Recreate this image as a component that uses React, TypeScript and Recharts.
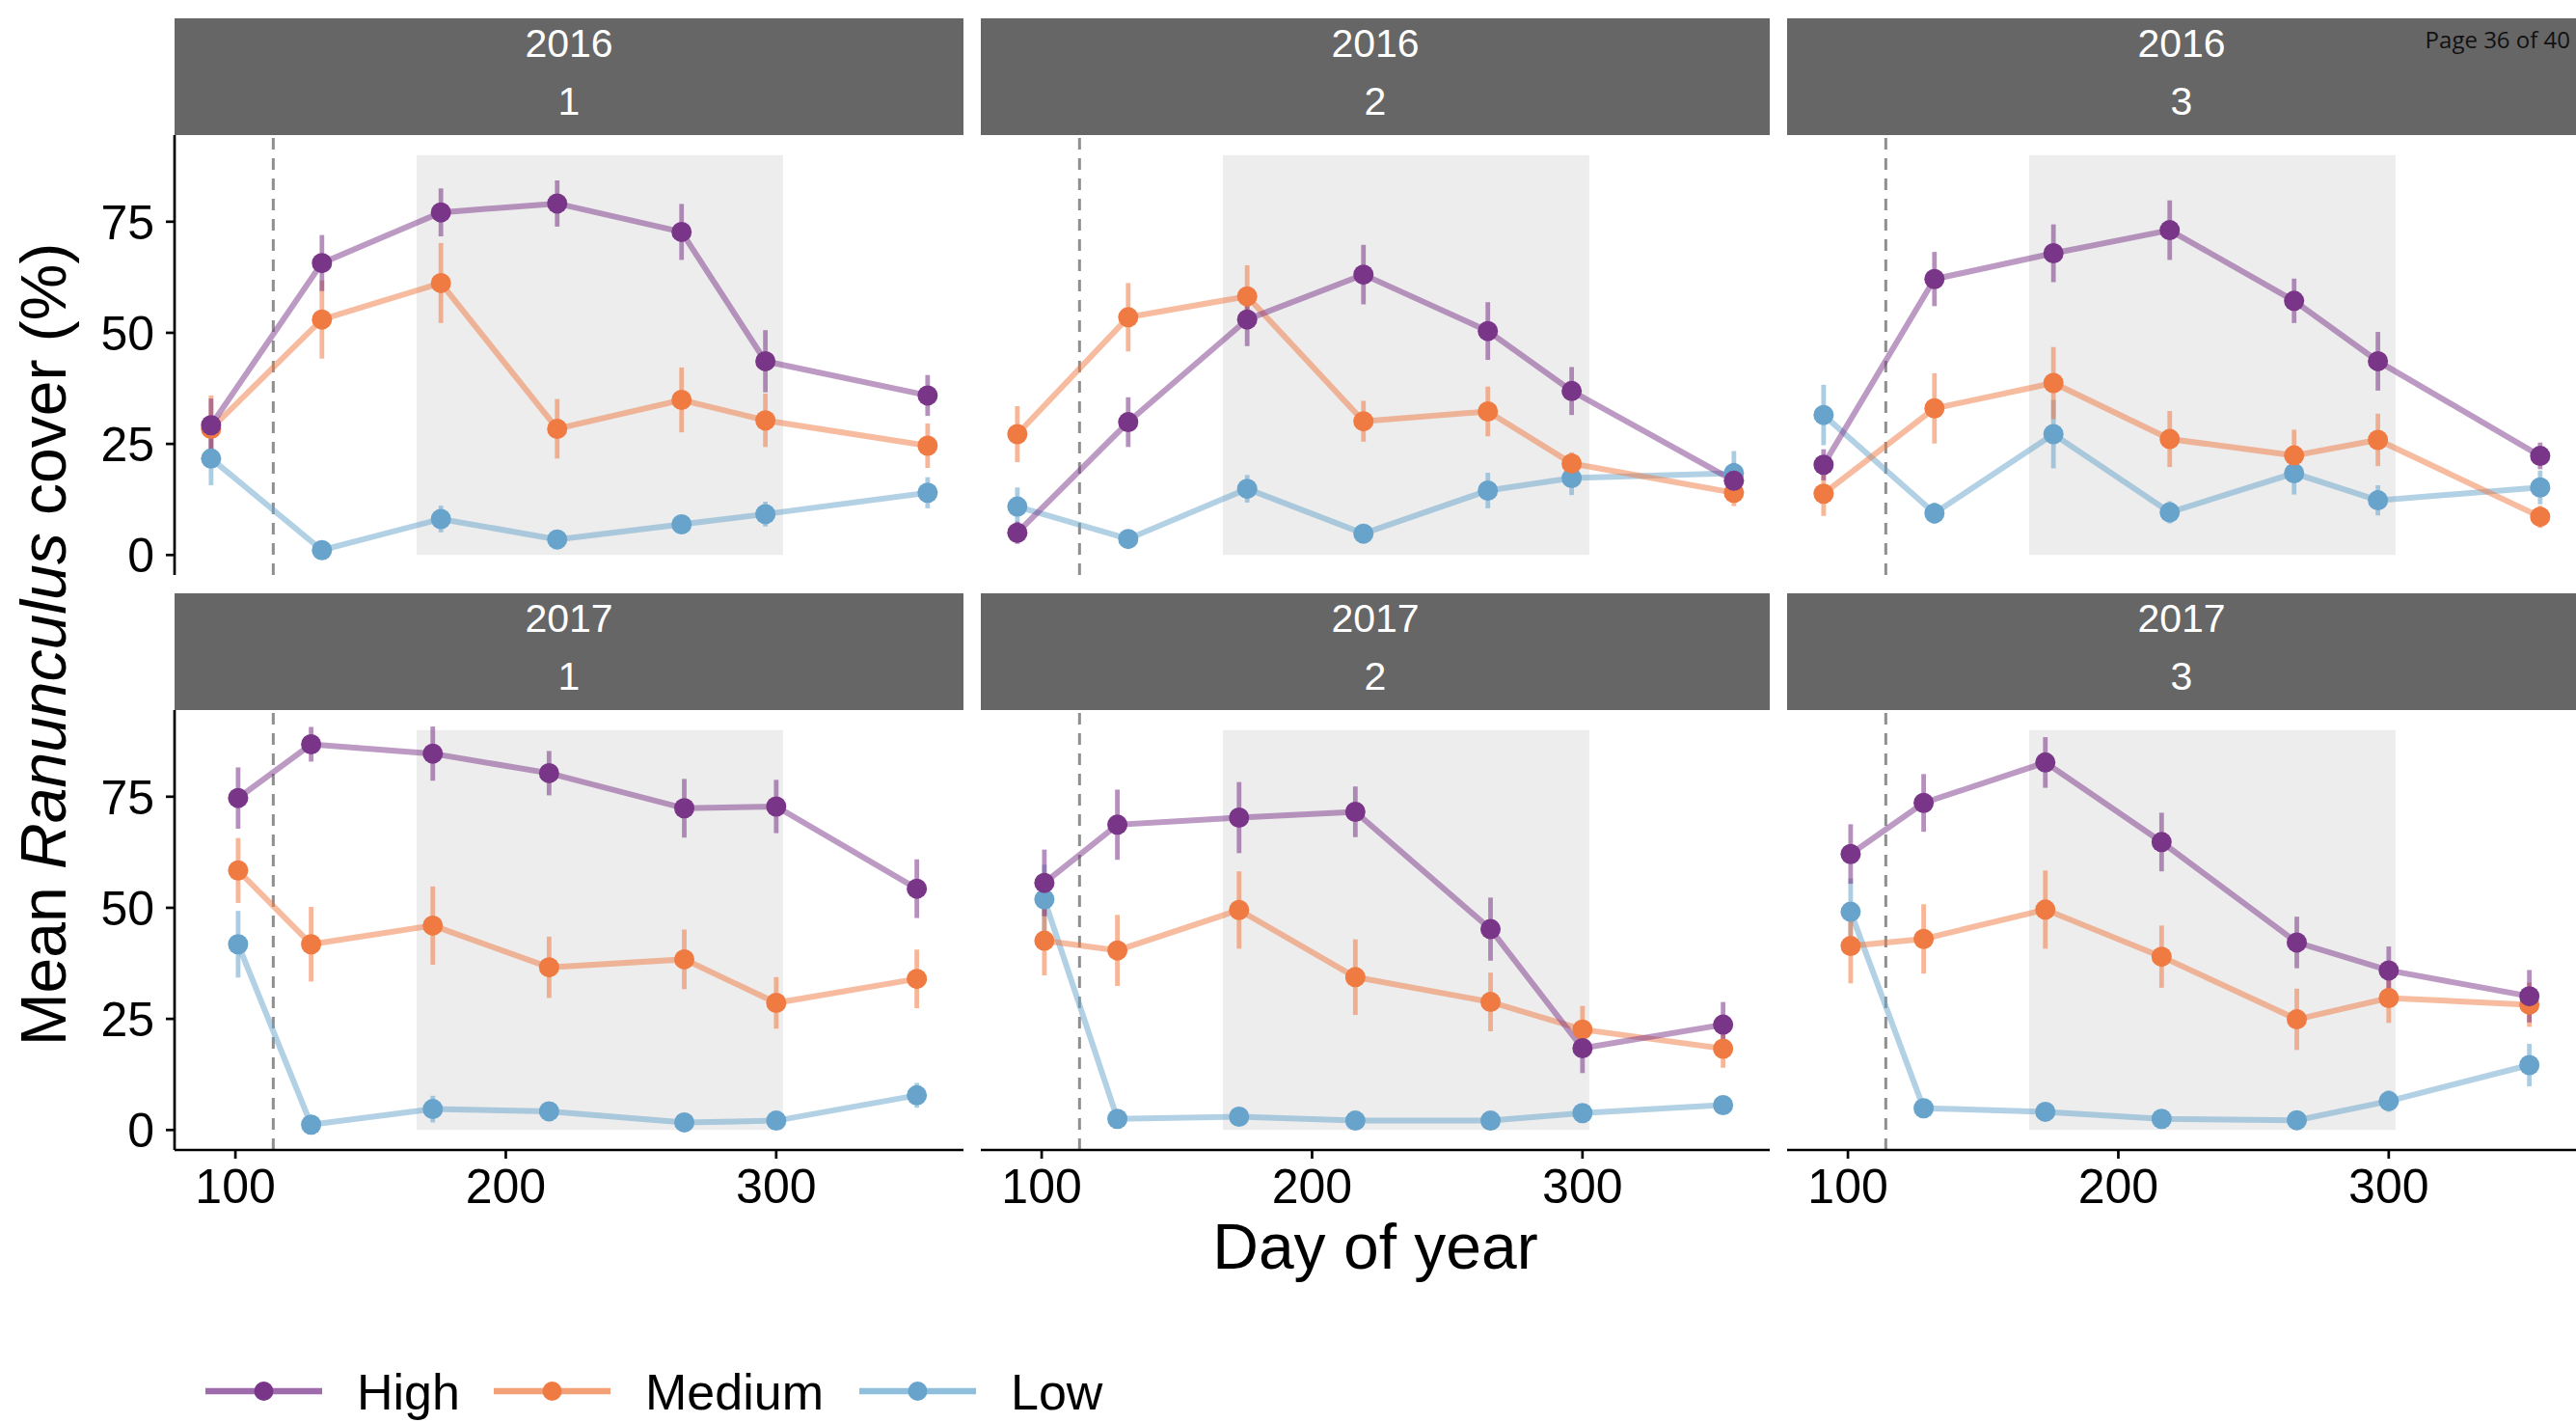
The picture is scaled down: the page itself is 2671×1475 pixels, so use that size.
import React from 'react';
import { ComposedChart, Line, XAxis, YAxis, ReferenceArea, ReferenceLine, ErrorBar } from 'recharts';

const FONT = '"Liberation Sans", Arial, Helvetica, sans-serif';

// ---------- data ----------
const YEARS = ['2016', '2017'];
const SITES = ['1', '2', '3'];
const SERIES_NAMES = ['High', 'Medium', 'Low'];
const SERIES_KEYS = ['high', 'med', 'low'];
const SERIES_COLORS = ['#793587', '#EF7A42', '#67A3CB'];
const LEGEND_LINE_COLORS = ['#9E6CAC', '#F4A077', '#90BEDD'];

const X_TICKS = [100, 200, 300];
const Y_TICKS = [0, 25, 50, 75];
const X_DOMAIN = [77.5, 369.25];
const Y_DOMAIN = [-4.5, 94.5];

const SHADE_START = 167;
const SHADE_END = 302.5;
const SHADE_BOTTOM = 0;
const SHADE_TOP = 90;
const DASH_DAY = 114;

const DAYS_2016 = [91, 132, 176, 219, 265, 296, 356];
const DAYS_2017 = [101, 128, 173, 216, 266, 300, 352];

// 2016 site 1
const HIGH_2016_1 = [29.2, 65.7, 77.1, 79.1, 72.7, 43.6, 35.9];
const HIGH_ERR_2016_1 = [6.0, 6.3, 5.4, 5.2, 6.3, 7.0, 4.6];
const MED_2016_1 = [28.4, 53.0, 61.2, 28.4, 34.9, 30.3, 24.6];
const MED_ERR_2016_1 = [7.5, 8.8, 9.0, 6.7, 7.3, 6.0, 5.0];
const LOW_2016_1 = [21.7, 1.1, 8.1, 3.5, 6.9, 9.2, 14.0];
const LOW_ERR_2016_1 = [6.0, 1.0, 3.0, 1.0, 2.0, 2.8, 3.5];

// 2016 site 2
const HIGH_2016_2 = [5.0, 29.9, 53.0, 63.1, 50.4, 36.9, 16.7];
const HIGH_ERR_2016_2 = [2.5, 5.6, 6.0, 6.7, 6.5, 5.4, 4.0];
const MED_2016_2 = [27.2, 53.5, 58.2, 30.1, 32.3, 20.6, 14.0];
const MED_ERR_2016_2 = [6.3, 7.7, 7.0, 4.6, 5.6, 2.5, 3.0];
const LOW_2016_2 = [10.9, 3.6, 14.9, 4.8, 14.5, 17.3, 18.4];
const LOW_ERR_2016_2 = [4.3, 1.0, 3.1, 1.0, 4.0, 3.8, 5.0];

// 2016 site 3
const HIGH_2016_3 = [20.3, 62.1, 67.9, 73.1, 57.2, 43.6, 22.3];
const HIGH_ERR_2016_3 = [3.5, 6.1, 6.5, 6.7, 5.0, 6.6, 3.0];
const MED_2016_3 = [13.8, 33.0, 38.7, 26.1, 22.4, 25.9, 8.6];
const MED_ERR_2016_3 = [5.0, 7.9, 8.1, 6.3, 5.8, 5.9, 2.5];
const LOW_2016_3 = [31.5, 9.4, 27.2, 9.6, 18.4, 12.3, 15.2];
const LOW_ERR_2016_3 = [6.8, 2.4, 7.7, 2.5, 4.8, 3.4, 3.8];

// 2017 site 1
const HIGH_2017_1 = [74.7, 86.8, 84.7, 80.3, 72.4, 72.8, 54.3];
const HIGH_ERR_2017_1 = [6.9, 3.9, 6.1, 5.0, 6.6, 6.0, 6.6];
const MED_2017_1 = [58.4, 41.8, 46.0, 36.6, 38.4, 28.6, 34.0];
const MED_ERR_2017_1 = [7.3, 8.4, 8.8, 6.9, 6.7, 5.8, 6.6];
const LOW_2017_1 = [41.8, 1.2, 4.7, 4.2, 1.7, 2.1, 7.8];
const LOW_ERR_2017_1 = [7.5, 0.5, 3.0, 1.5, 1.0, 1.0, 2.8];

// 2017 site 2
const HIGH_2017_2 = [55.6, 68.7, 70.3, 71.6, 45.2, 18.4, 23.7];
const HIGH_ERR_2017_2 = [7.5, 7.9, 8.0, 5.7, 7.1, 5.6, 5.1];
const MED_2017_2 = [42.6, 40.4, 49.5, 34.4, 28.8, 22.6, 18.3];
const MED_ERR_2017_2 = [7.8, 8.0, 8.7, 8.5, 6.6, 5.3, 4.3];
const LOW_2017_2 = [51.9, 2.5, 3.0, 2.1, 2.1, 3.8, 5.6];
const LOW_ERR_2017_2 = [7.8, 0.8, 0.8, 0.8, 0.8, 1.0, 1.0];

// 2017 site 3
const HIGH_2017_3 = [62.1, 73.6, 82.7, 64.8, 42.2, 35.9, 30.1];
const HIGH_ERR_2017_3 = [6.7, 6.5, 5.7, 6.6, 5.8, 5.4, 5.9];
const MED_2017_3 = [41.4, 43.0, 49.6, 39.0, 24.9, 29.7, 28.2];
const MED_ERR_2017_3 = [8.4, 7.8, 8.8, 7.0, 6.9, 5.6, 5.0];
const LOW_2017_3 = [49.1, 4.9, 4.1, 2.5, 2.2, 6.5, 14.6];
const LOW_ERR_2017_3 = [7.5, 1.0, 1.0, 1.0, 1.0, 2.4, 4.8];

const PANELS = [
  { year: YEARS[0], site: SITES[0], days: DAYS_2016, high: HIGH_2016_1, highErr: HIGH_ERR_2016_1, med: MED_2016_1, medErr: MED_ERR_2016_1, low: LOW_2016_1, lowErr: LOW_ERR_2016_1 },
  { year: YEARS[0], site: SITES[1], days: DAYS_2016, high: HIGH_2016_2, highErr: HIGH_ERR_2016_2, med: MED_2016_2, medErr: MED_ERR_2016_2, low: LOW_2016_2, lowErr: LOW_ERR_2016_2 },
  { year: YEARS[0], site: SITES[2], days: DAYS_2016, high: HIGH_2016_3, highErr: HIGH_ERR_2016_3, med: MED_2016_3, medErr: MED_ERR_2016_3, low: LOW_2016_3, lowErr: LOW_ERR_2016_3 },
  { year: YEARS[1], site: SITES[0], days: DAYS_2017, high: HIGH_2017_1, highErr: HIGH_ERR_2017_1, med: MED_2017_1, medErr: MED_ERR_2017_1, low: LOW_2017_1, lowErr: LOW_ERR_2017_1 },
  { year: YEARS[1], site: SITES[1], days: DAYS_2017, high: HIGH_2017_2, highErr: HIGH_ERR_2017_2, med: MED_2017_2, medErr: MED_ERR_2017_2, low: LOW_2017_2, lowErr: LOW_ERR_2017_2 },
  { year: YEARS[1], site: SITES[2], days: DAYS_2017, high: HIGH_2017_3, highErr: HIGH_ERR_2017_3, med: MED_2017_3, medErr: MED_ERR_2017_3, low: LOW_2017_3, lowErr: LOW_ERR_2017_3 },
];

// ---------- layout ----------
const PAGE_W = 2671;
const PAGE_H = 1475;
const PLOT_LEFTS = [181, 1017, 1853];
const PLOT_W = 818;
const PLOT_H = 456;
const STRIP_TOPS = [19, 615];
const STRIP_H = 121;
const X_AXIS_H = 80;
const TOP_ROW_PAD = 16;
const TICK_FONT = 50;
const AXIS_STROKE = 2.7;

const LEGEND_KEY_X = [213, 512, 891];
const LEGEND_TEXT_X = [370, 669, 1048];
const LEGEND_KEY_W = 121;

function Panel({ panel, index }: { panel: any; index: number }) {
  const col = index % 3;
  const row = Math.floor(index / 3);
  const showY = col === 0;
  const showX = row === 1;
  const data = panel.days.map((d: number, i: number) => ({
    day: d,
    high: panel.high[i],
    highErr: panel.highErr[i],
    med: panel.med[i],
    medErr: panel.medErr[i],
    low: panel.low[i],
    lowErr: panel.lowErr[i],
  }));
  const chartLeft = showY ? 0 : PLOT_LEFTS[col];
  const chartW = showY ? PLOT_LEFTS[0] + PLOT_W : PLOT_W;
  const chartTop = STRIP_TOPS[row] + STRIP_H;
  const bottomPad = showX ? 0 : TOP_ROW_PAD;
  const chartH = PLOT_H + (showX ? X_AXIS_H : 0) + bottomPad;
  const order = [2, 1, 0];

  return (
    <>
      <div
        style={{
          position: 'absolute',
          left: PLOT_LEFTS[col],
          top: STRIP_TOPS[row],
          width: PLOT_W,
          height: STRIP_H,
          background: '#666666',
        }}
      >
        <svg width={PLOT_W} height={STRIP_H} style={{ display: 'block' }}>
          <text x={PLOT_W / 2} y={40} textAnchor="middle" fill="#ffffff" fontSize={41} fontFamily={FONT}>
            {panel.year}
          </text>
          <text x={PLOT_W / 2} y={100} textAnchor="middle" fill="#ffffff" fontSize={41} fontFamily={FONT}>
            {panel.site}
          </text>
        </svg>
      </div>
      <div style={{ position: 'absolute', left: chartLeft, top: chartTop }}>
        <ComposedChart
          width={chartW}
          height={chartH}
          data={data}
          margin={{ top: 0, right: 0, bottom: bottomPad, left: 0 }}
        >
          <XAxis
            dataKey="day"
            type="number"
            domain={X_DOMAIN}
            ticks={X_TICKS}
            allowDataOverflow
            interval={0}
            hide={!showX}
            height={X_AXIS_H}
            tickSize={9}
            tickMargin={10.5}
            axisLine={{ stroke: '#000', strokeWidth: AXIS_STROKE }}
            tickLine={{ stroke: '#000', strokeWidth: AXIS_STROKE }}
            tick={{ fontSize: TICK_FONT, fill: '#000', fontFamily: FONT }}
          />
          <YAxis
            type="number"
            domain={Y_DOMAIN}
            ticks={Y_TICKS}
            allowDataOverflow
            interval={0}
            hide={!showY}
            width={PLOT_LEFTS[0]}
            tickSize={9}
            tickMargin={12}
            axisLine={{ stroke: '#000', strokeWidth: AXIS_STROKE }}
            tickLine={{ stroke: '#000', strokeWidth: AXIS_STROKE }}
            tick={{ fontSize: TICK_FONT, fill: '#000', fontFamily: FONT }}
          />
          <ReferenceArea
            x1={SHADE_START}
            x2={SHADE_END}
            y1={SHADE_BOTTOM}
            y2={SHADE_TOP}
            fill="#EDEDED"
            fillOpacity={1}
            stroke="none"
          />
          <ReferenceLine x={DASH_DAY} stroke="#8F8F8F" strokeWidth={3} strokeDasharray="12 9" />
          {order.map((s) => (
            <Line
              key={'line-' + s}
              dataKey={SERIES_KEYS[s]}
              stroke={SERIES_COLORS[s]}
              strokeOpacity={0.5}
              strokeWidth={6}
              dot={false}
              activeDot={false}
              isAnimationActive={false}
              type="linear"
            />
          ))}
          {order.map((s) => (
            <Line
              key={'pts-' + s}
              dataKey={SERIES_KEYS[s]}
              stroke="none"
              strokeWidth={0}
              dot={{ r: 10.5, fill: SERIES_COLORS[s], stroke: 'none', strokeWidth: 0, fillOpacity: 1 }}
              activeDot={false}
              isAnimationActive={false}
              type="linear"
            >
              <ErrorBar
                dataKey={SERIES_KEYS[s] + 'Err'}
                direction="y"
                width={0}
                stroke={SERIES_COLORS[s]}
                strokeOpacity={0.55}
                strokeWidth={4.8}
              />
            </Line>
          ))}
        </ComposedChart>
      </div>
    </>
  );
}

export default function App() {
  return (
    <div
      style={{
        position: 'absolute',
        left: 0,
        top: 0,
        width: PAGE_W,
        height: PAGE_H,
        background: '#ffffff',
        overflow: 'hidden',
        fontFamily: FONT,
      }}
    >
      {PANELS.map((p, i) => (
        <Panel key={i} panel={p} index={i} />
      ))}
      <svg
        width={PAGE_W}
        height={PAGE_H}
        style={{ position: 'absolute', left: 0, top: 0, pointerEvents: 'none' }}
      >
        <text
          transform="translate(68,668) rotate(-90)"
          textAnchor="middle"
          fontSize={66}
          fontFamily={FONT}
          fill="#000"
        >
          Mean <tspan fontStyle="italic">Ranunculus</tspan> cover (%)
        </text>
        <text x={1426} y={1315} textAnchor="middle" fontSize={66} fontFamily={FONT} fill="#000">
          Day of year
        </text>
        {SERIES_NAMES.map((name, i) => (
          <g key={name}>
            <line
              x1={LEGEND_KEY_X[i]}
              x2={LEGEND_KEY_X[i] + LEGEND_KEY_W}
              y1={1442}
              y2={1442}
              stroke={LEGEND_LINE_COLORS[i]}
              strokeWidth={6.5}
            />
            <circle cx={LEGEND_KEY_X[i] + LEGEND_KEY_W / 2} cy={1442} r={10} fill={SERIES_COLORS[i]} />
            <text x={LEGEND_TEXT_X[i]} y={1461} fontSize={52} fontFamily={FONT} fill="#000">
              {name}
            </text>
          </g>
        ))}
        <text x={2665} y={50} textAnchor="end" fontSize={24} fontFamily='"Open Sans", sans-serif' fill="#111">
          Page 36 of 40
        </text>
      </svg>
    </div>
  );
}
